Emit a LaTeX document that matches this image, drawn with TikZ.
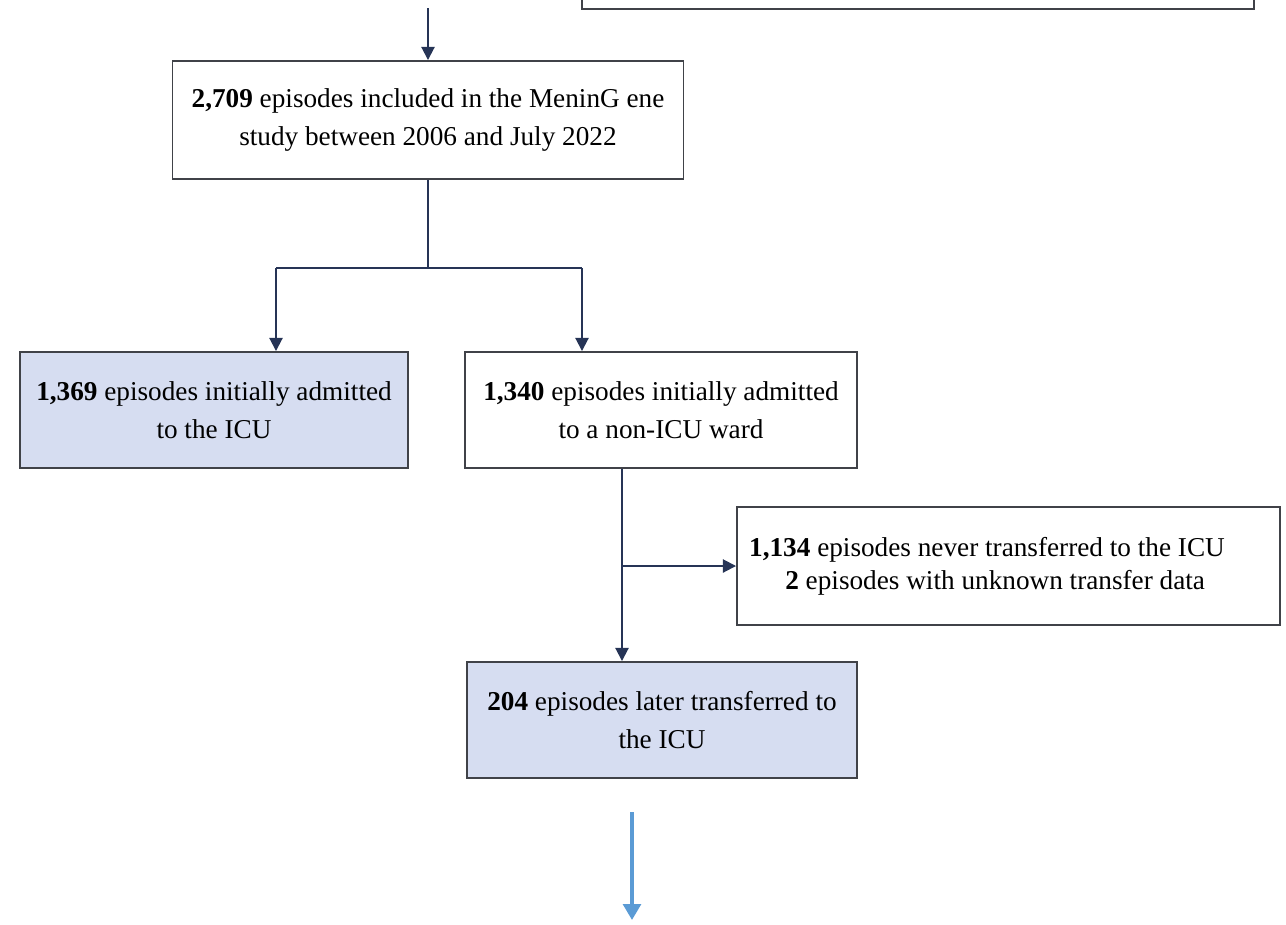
\documentclass[tikz,border=0pt]{standalone}
\usepackage{fontspec}
\setmainfont{Liberation Serif}
\usetikzlibrary{arrows.meta}
\definecolor{linecol}{RGB}{38,52,86}
\definecolor{boxline}{RGB}{64,66,72}
\definecolor{icufill}{RGB}{214,221,241}
\definecolor{flowblue}{RGB}{91,155,213}
\tikzset{
  stagebox/.style={draw=boxline, line width=1.1pt, fill=white, align=center,
    inner sep=0pt, font=\fontsize{15.5}{21.5}\selectfont},
  icubox/.style={stagebox, fill=icufill},
  flow/.style={draw=linecol, line width=1.1pt},
  flowarrow/.style={flow, -{Triangle[width=7.5pt,length=7.5pt]}},
  nextarrow/.style={draw=flowblue, line width=2pt, -{Triangle[width=10pt,length=9pt]}}
}
\begin{document}
\begin{tikzpicture}[x=0.02cm,y=-0.02cm]
\useasboundingbox (0,0) rectangle (1286,924);
% previous stage box, cut off by the page edge
\node[stagebox, minimum width=672*0.02cm, minimum height=68*0.02cm] (prev) at (918,-25) {};
% main stages
\node[stagebox, minimum width=511*0.02cm, minimum height=118*0.02cm] (total) at (428,120)
  {\textbf{2,709} episodes included in the MeninG ene\\study between 2006 and July 2022};
\node[icubox, minimum width=388*0.02cm, minimum height=116*0.02cm] (icu) at (214,410)
  {\textbf{1,369} episodes initially admitted\\to the ICU};
\node[stagebox, minimum width=392*0.02cm, minimum height=116*0.02cm] (ward) at (661,410)
  {\textbf{1,340} episodes initially admitted\\to a non-ICU ward};
\node[stagebox, minimum width=543*0.02cm, minimum height=118*0.02cm] (never) at (1008.5,566) {};
\node[font=\fontsize{15.5}{19}\selectfont, align=center] (nevertxt) at (987,566)
  {\textbf{1,134} episodes never transferred to the ICU\\\hspace*{0.6em}\textbf{2} episodes with unknown transfer data};
\node[icubox, minimum width=390*0.02cm, minimum height=116*0.02cm] (later) at (662,720)
  {\textbf{204} episodes later transferred to\\the ICU};
% connectors
\coordinate (in) at (428,8);
\draw[flowarrow] (in) -- (total.north);
\coordinate (split) at (428,268);
\coordinate (splitl) at (276,268);
\coordinate (splitr) at (582,268);
\draw[flow] (total.south) -- (split);
\draw[flow] (splitl) -- (splitr);
\draw[flowarrow] (splitl) -- (splitl |- icu.north);
\draw[flowarrow] (splitr) -- (splitr |- ward.north);
\coordinate (branch) at (622,566);
\draw[flowarrow] (branch |- ward.south) -- (branch |- later.north);
\draw[flowarrow] (branch) -- (branch -| never.west);
% continuation to the next stage
\coordinate (out1) at (632,812);
\coordinate (out2) at (632,920);
\draw[nextarrow] (out1) -- (out2);
\end{tikzpicture}
\end{document}
